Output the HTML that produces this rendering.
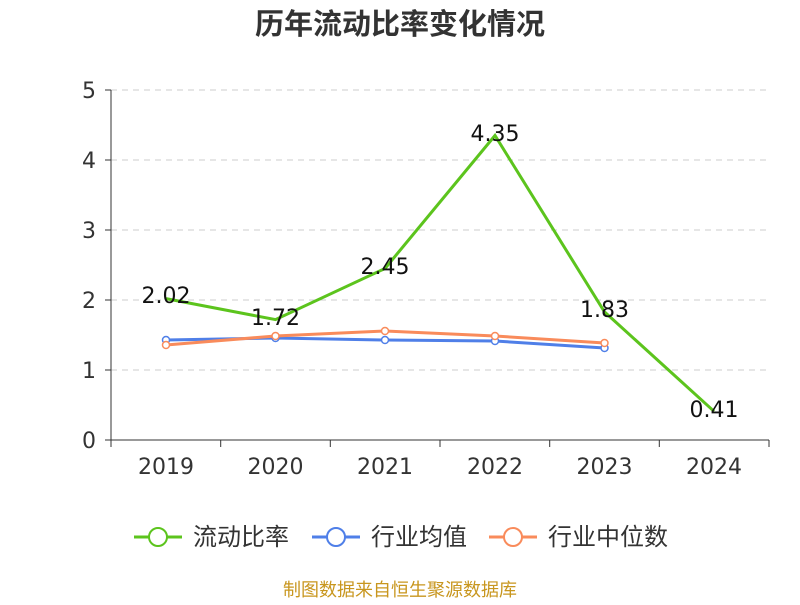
<!DOCTYPE html>
<html><head><meta charset="utf-8"><style>
body{margin:0;background:#fff;}
text{font-family:"DejaVu Sans","Noto Sans CJK SC",sans-serif;}
</style></head><body>
<svg width="800" height="600" xmlns="http://www.w3.org/2000/svg">
<rect width="800" height="600" fill="#fff"/>
<text x="400" y="34" text-anchor="middle" font-size="29" font-weight="bold" fill="#333" font-family="Noto Sans CJK SC, sans-serif">历年流动比率变化情况</text>
<g stroke="#ccc" stroke-dasharray="6,5" stroke-width="1">
<line x1="111" x2="769" y1="90" y2="90"/><line x1="111" x2="769" y1="160" y2="160"/>
<line x1="111" x2="769" y1="230" y2="230"/><line x1="111" x2="769" y1="300" y2="300"/>
<line x1="111" x2="769" y1="370" y2="370"/>
</g>
<g stroke="#333" stroke-width="1">
<line x1="111" x2="111" y1="90" y2="440"/>
<line x1="111" x2="769" y1="440" y2="440"/>
<line x1="105" x2="111" y1="90" y2="90"/><line x1="105" x2="111" y1="160" y2="160"/>
<line x1="105" x2="111" y1="230" y2="230"/><line x1="105" x2="111" y1="300" y2="300"/>
<line x1="105" x2="111" y1="370" y2="370"/><line x1="105" x2="111" y1="440" y2="440"/>
<line x1="111" x2="111" y1="440" y2="447"/><line x1="220.7" x2="220.7" y1="440" y2="447"/>
<line x1="330.3" x2="330.3" y1="440" y2="447"/><line x1="440" x2="440" y1="440" y2="447"/>
<line x1="549.7" x2="549.7" y1="440" y2="447"/><line x1="659.3" x2="659.3" y1="440" y2="447"/>
<line x1="769" x2="769" y1="440" y2="447"/>
</g>
<g font-size="22" fill="#333" text-anchor="end">
<text x="96" y="98">5</text><text x="96" y="168">4</text><text x="96" y="238">3</text>
<text x="96" y="308">2</text><text x="96" y="378">1</text><text x="96" y="448">0</text>
</g>
<g font-size="22" fill="#333" text-anchor="middle">
<text x="166" y="474">2019</text><text x="275.5" y="474">2020</text><text x="385" y="474">2021</text>
<text x="495" y="474">2022</text><text x="604.5" y="474">2023</text><text x="714" y="474">2024</text>
</g>
<polyline fill="none" stroke="#4f7fe8" stroke-width="3" points="166,340 275.5,338 385,340 495,341 604.5,348"/>
<g fill="#fff" stroke="#4f7fe8" stroke-width="1.5">
<circle cx="166" cy="340" r="3.5"/><circle cx="275.5" cy="338" r="3.5"/><circle cx="385" cy="340" r="3.5"/><circle cx="495" cy="341" r="3.5"/><circle cx="604.5" cy="348" r="3.5"/>
</g>
<polyline fill="none" stroke="#f98b5b" stroke-width="3" points="166,345 275.5,336 385,331 495,336 604.5,343"/>
<g fill="#fff" stroke="#f98b5b" stroke-width="1.5">
<circle cx="166" cy="345" r="3.5"/><circle cx="275.5" cy="336" r="3.5"/><circle cx="385" cy="331" r="3.5"/><circle cx="495" cy="336" r="3.5"/><circle cx="604.5" cy="343" r="3.5"/>
</g>
<polyline fill="none" stroke="#5cc41d" stroke-width="3" points="166,298.6 275.5,319.6 385,268.5 495,135.5 604.5,311.9 714,411.3"/>
<g font-size="22" fill="#111" text-anchor="middle">
<text x="166" y="303">2.02</text><text x="275.5" y="325">1.72</text><text x="385" y="274">2.45</text>
<text x="495" y="141">4.35</text><text x="604.5" y="317">1.83</text><text x="714" y="417">0.41</text>
</g>
<line x1="134" x2="182" y1="537" y2="537" stroke="#5cc41d" stroke-width="3"/>
<circle cx="158" cy="537" r="9" fill="#fff" stroke="#5cc41d" stroke-width="2"/>
<text x="193" y="545" font-size="24" fill="#333">流动比率</text>
<line x1="312" x2="360" y1="537" y2="537" stroke="#4f7fe8" stroke-width="3"/>
<circle cx="336" cy="537" r="9" fill="#fff" stroke="#4f7fe8" stroke-width="2"/>
<text x="371" y="545" font-size="24" fill="#333">行业均值</text>
<line x1="489" x2="537" y1="537" y2="537" stroke="#f98b5b" stroke-width="3"/>
<circle cx="513" cy="537" r="9" fill="#fff" stroke="#f98b5b" stroke-width="2"/>
<text x="548" y="545" font-size="24" fill="#333">行业中位数</text>
<text x="400" y="596" text-anchor="middle" font-size="18" fill="#c8961e">制图数据来自恒生聚源数据库</text>
</svg>
</body></html>
